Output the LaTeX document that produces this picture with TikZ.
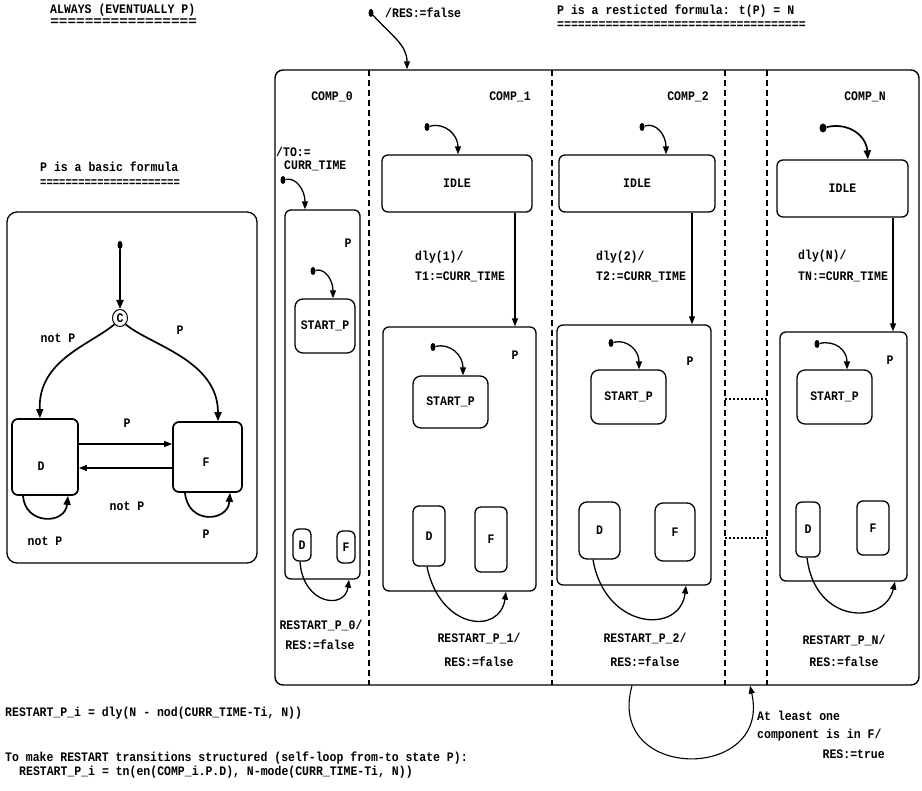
\documentclass[tikz,border=0pt]{standalone}
\usepackage{fontspec}
\newfontfamily\cb{Liberation Mono}[FakeStretch=0.885]
\usetikzlibrary{arrows.meta,shapes.geometric}
\begin{document}
\begin{tikzpicture}[x=1pt,y=-1pt,
  every node/.style={font=\cb\bfseries\fontsize{13}{14}\selectfont, inner sep=0pt},
  box/.style={draw, rounded corners=6pt, line width=1.3pt},
  arr/.style={line width=1.3pt, -{Triangle[length=8pt,width=6pt]}},
  thickarr/.style={line width=1.7pt, -{Triangle[length=9pt,width=7pt]}},
  dotn/.style={fill, ellipse, minimum width=5pt, minimum height=8pt, inner sep=0pt},
  divider/.style={line width=1.2pt, dash pattern=on 6pt off 4pt},
  dotline/.style={line width=1.2pt, dash pattern=on 2pt off 2pt},
  lw/.style={anchor=west}]
\useasboundingbox (0,0) rectangle (922,791);
% titles
\node[lw] (t1) at (50,10) {ALWAYS (EVENTUALLY P)};
\node[lw, xscale=1.25] (t1u) at (50,22) {=================};
\node[lw] (t2) at (557,11) {P is a resticted formula: t(P) = N};
\node[lw] (t2u) at (557,25) {====================================};
\node[lw] (t3) at (40,167) {P is a basic formula};
\node[lw, xscale=0.92] (t3u) at (40,183) {======================};
% left box
\node[box, rounded corners=10pt, minimum width=250pt, minimum height=351pt] (L) at (132,387.5) {};
\node[dotn] (Ld) at (120,245) {};
\node[draw, ellipse, line width=1pt, minimum width=15pt, minimum height=17pt] (C) at (120,318) {C};
\node[box, line width=1.7pt, minimum width=66pt, minimum height=76pt] (Dl) at (45,457) {};
\node (Dlt) at (41,466) {D};
\node[box, line width=1.7pt, minimum width=69pt, minimum height=70pt] (Fl) at (207.5,457) {};
\node (Flt) at (206,462) {F};
\draw[thickarr] (Ld) -- (C);
\draw[thickarr] (C.south west) .. controls (90,345) and (38,360) .. ([xshift=-5]Dl.north);
\draw[thickarr] (C.south east) .. controls (150,345) and (218,360) .. ([xshift=10.5]Fl.north);
\node (l1) at (58,338) {not P};
\node (l2) at (180,330) {P};
\draw[arr] ([yshift=13]Dl.east) -- ([yshift=13]Fl.west);
\draw[arr] ([yshift=-11]Fl.west) -- ([yshift=-11]Dl.east);
\node (l3) at (127,423) {P};
\node (l4) at (127,506) {not P};
\draw[thickarr] ([xshift=-22]Dl.south) .. controls (25,525) and (65,525) .. ([xshift=23]Dl.south);
\node (l5) at (45,541) {not P};
\draw[thickarr] ([xshift=-22.5]Fl.south) .. controls (188,525) and (228,522) .. ([xshift=22.5]Fl.south);
\node (l6) at (206,534) {P};
% big box
\node[draw, rounded corners=8pt, line width=1.4pt, minimum width=644pt, minimum height=615pt] (big) at (597,377.5) {};
\node[dotn] (bd) at (371,13) {};
\node[lw] (resf) at (385,13) {/RES:=false};
\draw[arr] (bd) .. controls (392,36) and (407,45) .. ([xshift=-190]big.north);
\draw[divider] (369,70) -- (369,685);
\draw[divider] (552,70) -- (552,685);
\draw[divider] (725,70) -- (725,685);
\draw[divider] (767,70) -- (767,685);
\draw[dotline] (725,399) -- (767,399);
\draw[dotline] (725,538) -- (767,538);
\node (c0) at (332,97) {COMP\_0};
\node (c1) at (510,97) {COMP\_1};
\node (c2) at (688,97) {COMP\_2};
\node (cn) at (865,97) {COMP\_N};
% COMP_0
\node[lw] (to1) at (276,152) {/TO:=};
\node[lw] (to2) at (284,166) {CURR\_TIME};
\node[dotn] (d0) at (283,180) {};
\node[box, minimum width=75pt, minimum height=369pt] (P0) at (322.5,394.5) {};
\node (P0l) at (348,243) {P};
\draw[arr] (d0) .. controls (296,177) and (305,190) .. ([xshift=-17.5]P0.north);
\node[dotn] (ds0) at (313,271) {};
\node[box, rounded corners=8pt, minimum width=60pt, minimum height=54pt] (S0) at (325,326) {START\_P};
\draw[arr] (ds0) .. controls (325,268) and (333,280) .. ([xshift=8]S0.north);
\node[box, minimum width=18pt, minimum height=32pt] (D0) at (302,545) {D};
\node[box, minimum width=18pt, minimum height=32pt] (F0) at (346,547) {F};
\draw[arr] ([xshift=-2]D0.south) .. controls (303,605) and (345,610) .. ([xshift=26.5]P0.south);
\node (r0a) at (321,625) {RESTART\_P\_0/};
\node (r0b) at (320,645) {RES:=false};
% COMP_1
\node[dotn] (d1) at (427,127) {};
\node[box, minimum width=150pt, minimum height=57pt] (I1) at (457,183.5) {IDLE};
\draw[arr] (d1) .. controls (445,122) and (458,135) .. ([xshift=1]I1.north);
\node[box, minimum width=153pt, minimum height=264pt] (P1) at (459.5,459) {};
\draw[arr] ([xshift=58]I1.south) -- ([xshift=55.5]P1.north);
\node[lw] (e1a) at (415,257) {dly(1)/};
\node[lw] (e1b) at (415,277) {T1:=CURR\_TIME};
\node (P1l) at (515,355) {P};
\node[dotn] (ds1) at (433,347) {};
\node[box, rounded corners=8pt, minimum width=75pt, minimum height=52pt] (S1) at (450.5,402) {START\_P};
\draw[arr] (ds1) .. controls (450,343) and (463,355) .. ([xshift=12.5]S1.north);
\node[box, minimum width=32pt, minimum height=60pt] (D1) at (429,536) {D};
\node[box, minimum width=32pt, minimum height=65pt] (F1) at (491,539.5) {F};
\draw[arr] ([xshift=-2]D1.south) .. controls (440,630) and (500,635) .. ([xshift=46.5]P1.south);
\node (r1a) at (479,638) {RESTART\_P\_1/};
\node (r1b) at (479,662) {RES:=false};
% COMP_2
\node[dotn] (d2) at (642,127) {};
\node[box, minimum width=156pt, minimum height=57pt] (I2) at (637,183.5) {IDLE};
\draw[arr] (d2) .. controls (656,122) and (666,135) .. ([xshift=29]I2.north);
\node[box, minimum width=154pt, minimum height=260pt] (P2) at (634,455) {};
\draw[arr] ([xshift=55]I2.south) -- ([xshift=58]P2.north);
\node[lw] (e2a) at (596,257) {dly(2)/};
\node[lw] (e2b) at (596,277) {T2:=CURR\_TIME};
\node (P2l) at (690,361) {P};
\node[dotn] (ds2) at (611,343) {};
\node[box, rounded corners=8pt, minimum width=75pt, minimum height=54pt] (S2) at (628.5,397) {START\_P};
\draw[arr] (ds2) .. controls (627,339) and (639,350) .. ([xshift=10.5]S2.north);
\node[box, rounded corners=8pt, minimum width=41pt, minimum height=57pt] (D2) at (599.5,530.5) {D};
\node[box, rounded corners=8pt, minimum width=40pt, minimum height=58pt] (F2) at (675,532) {F};
\draw[arr] ([xshift=-6.5]D2.south) .. controls (605,630) and (680,635) .. ([xshift=52]P2.south);
\node (r2a) at (645,638) {RESTART\_P\_2/};
\node (r2b) at (645,662) {RES:=false};
% COMP_N
\node[dotn, minimum width=7pt, minimum height=9pt] (dn) at (823,128) {};
\node[box, minimum width=131pt, minimum height=57pt] (IN) at (842.5,188.5) {IDLE};
\draw[thickarr] (dn) .. controls (848,122) and (866,135) .. ([xshift=25.5]IN.north);
\node[box, minimum width=127pt, minimum height=249pt] (PN) at (843.5,456.5) {};
\draw[arr] ([xshift=50.5]IN.south) -- ([xshift=49.5]PN.north);
\node[lw] (ena) at (798,256) {dly(N)/};
\node[lw] (enb) at (798,277) {TN:=CURR\_TIME};
\node (PNl) at (890,360) {P};
\node[dotn] (dsn) at (817,344) {};
\node[box, rounded corners=8pt, minimum width=75pt, minimum height=54pt] (SN) at (834.5,397) {START\_P};
\draw[arr] (dsn) .. controls (835,340) and (847,350) .. ([xshift=12.5]SN.north);
\node[box, minimum width=24pt, minimum height=55pt] (DN) at (808,529.5) {D};
\node[box, minimum width=32pt, minimum height=54pt] (FN) at (873,528) {F};
\draw[arr] ([xshift=-1]DN.south) .. controls (815,625) and (885,625) .. ([xshift=51.5]PN.south);
\node (rna) at (844,640) {RESTART\_P\_N/};
\node (rnb) at (844,662) {RES:=false};
% big self-loop
\draw[line width=1.1pt, -{Triangle[length=8pt,width=6pt]}] ([xshift=35]big.south) .. controls (605,782) and (772,782) .. ([xshift=153]big.south);
\node[lw] (al1) at (757,716) {At least one};
\node[lw] (al2) at (757,735) {component is in F/};
\node[anchor=east] (al3) at (885,754) {RES:=true};
% bottom text
\node[lw] (b1) at (5,713) {RESTART\_P\_i = dly(N - nod(CURR\_TIME-Ti, N))};
\node[lw] (b2) at (5,758) {To make RESTART transitions structured (self-loop from-to state P):};
\node[lw] (b3) at (19,772) {RESTART\_P\_i = tn(en(COMP\_i.P.D), N-mode(CURR\_TIME-Ti, N))};
\end{tikzpicture}
\end{document}
